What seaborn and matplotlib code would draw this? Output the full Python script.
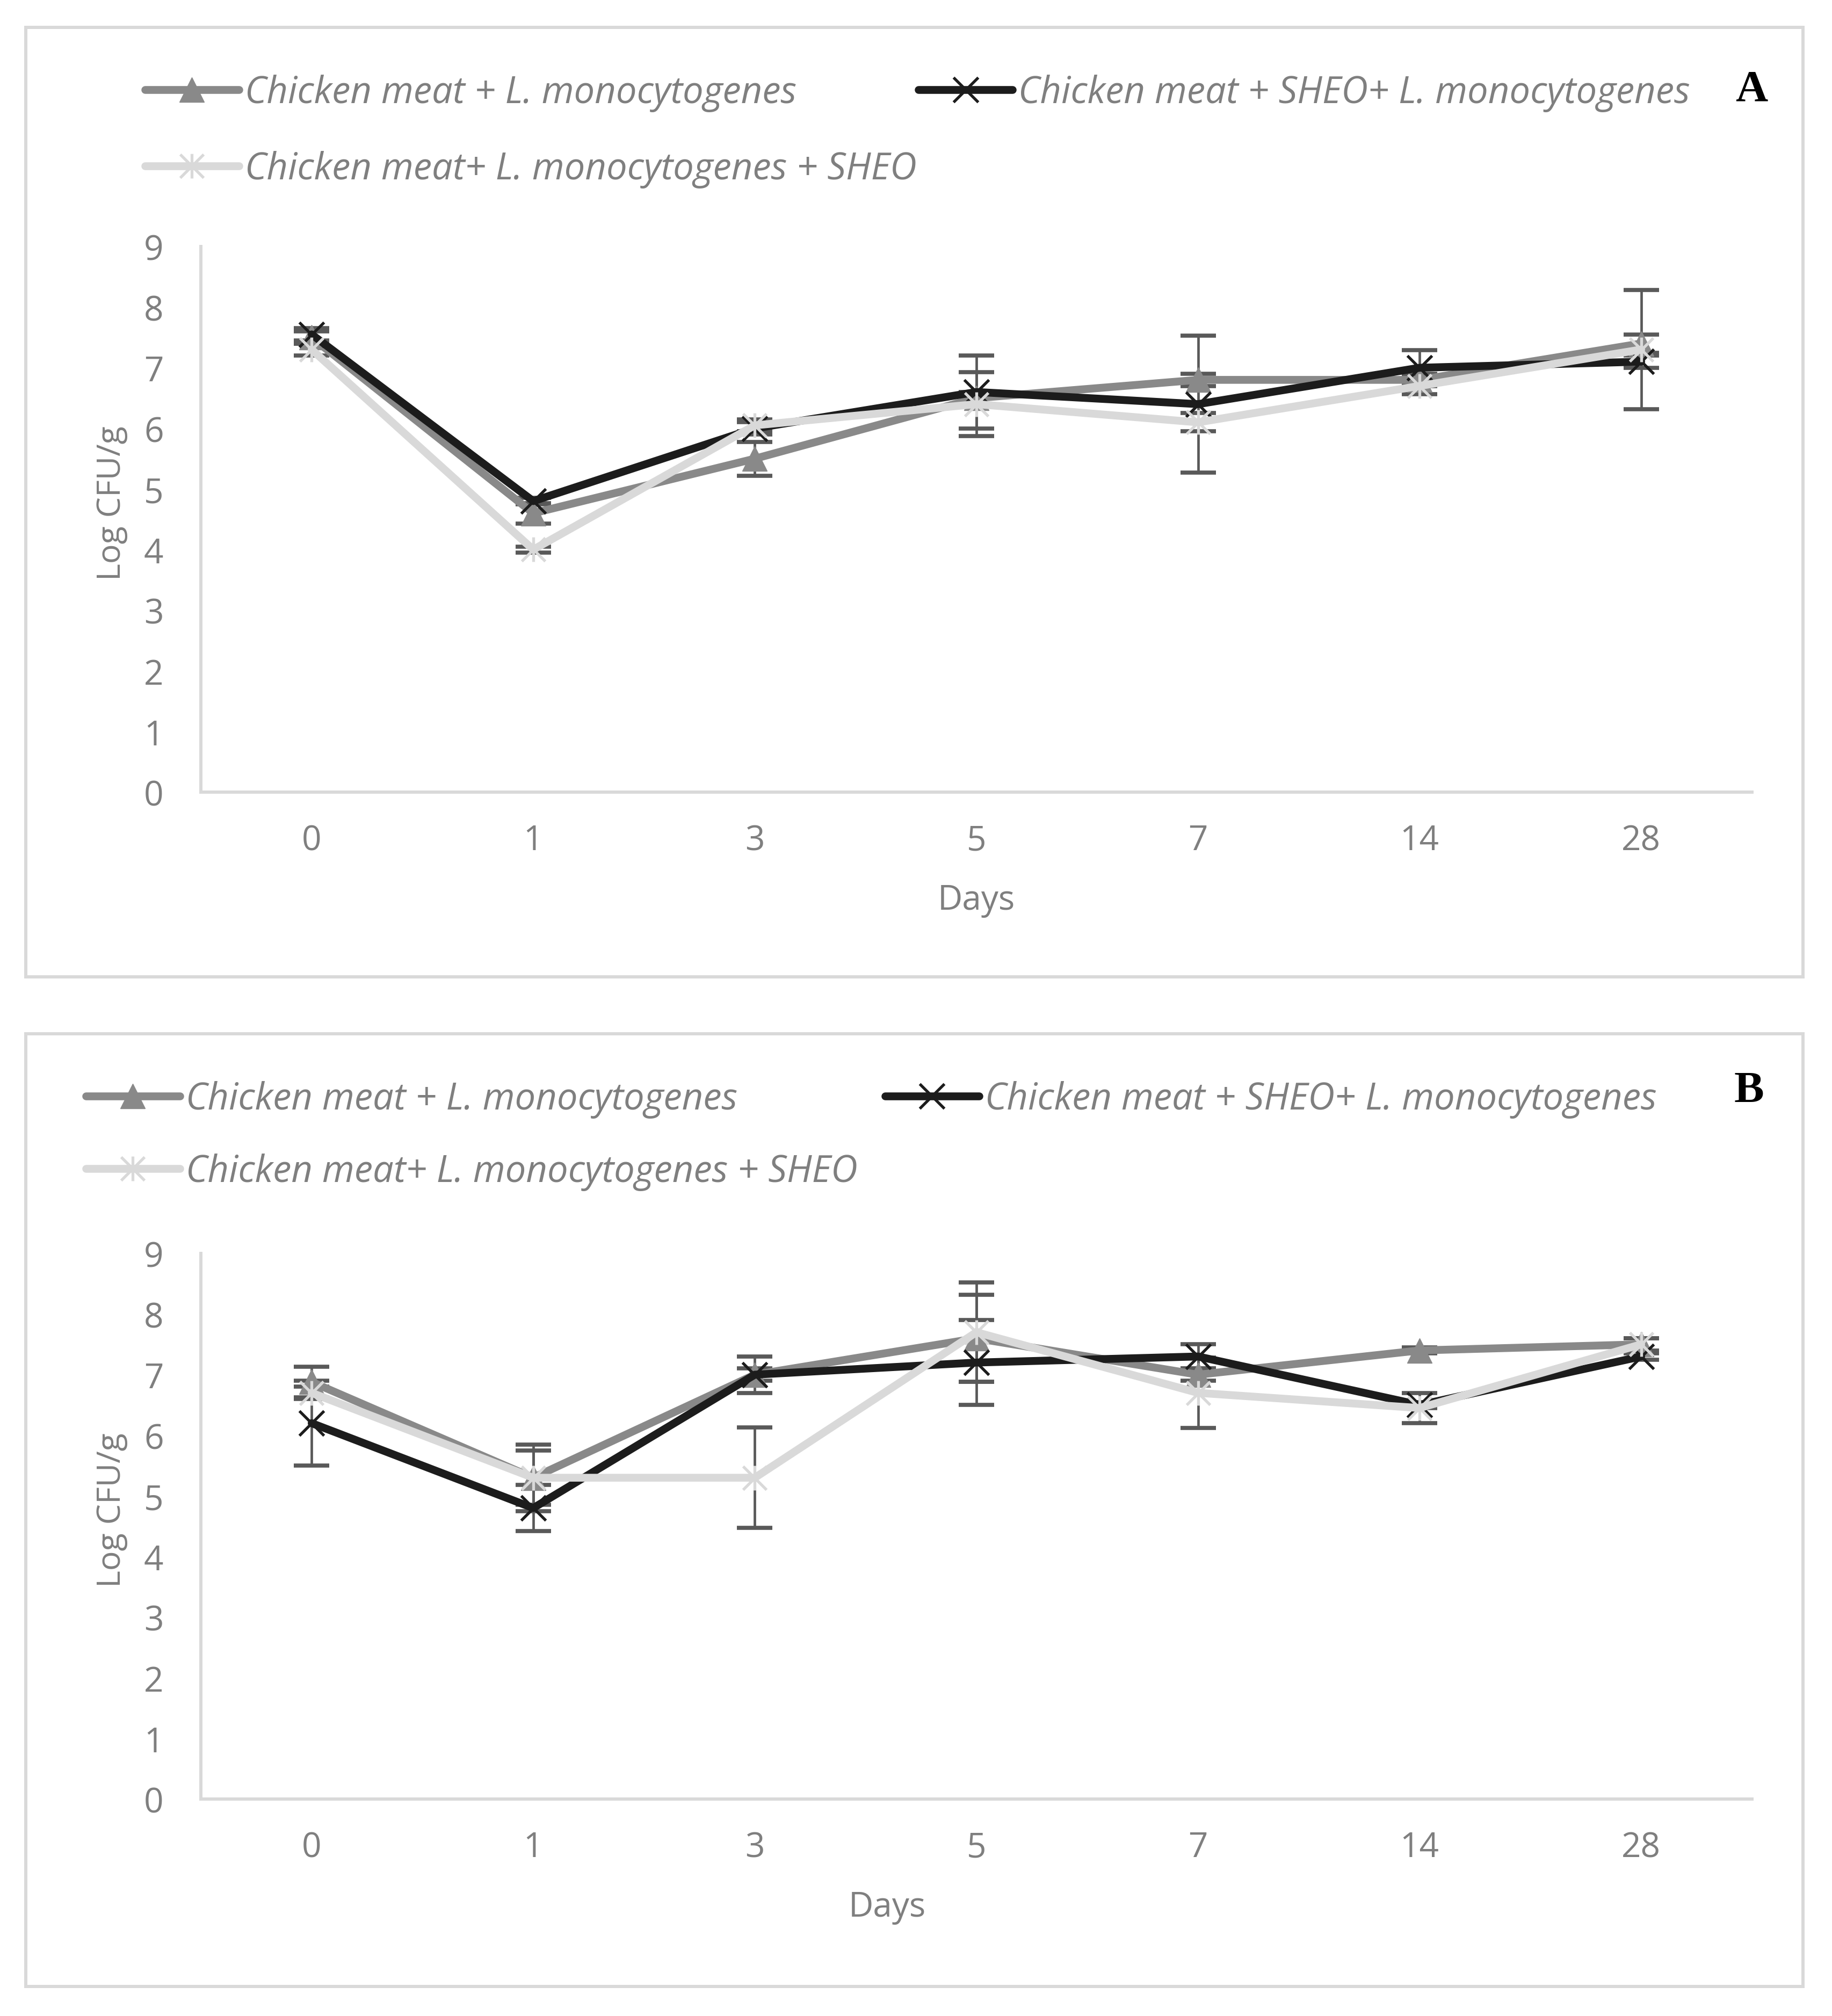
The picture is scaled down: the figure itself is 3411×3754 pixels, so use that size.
import matplotlib.pyplot as plt
import matplotlib.patches as mpatches
from matplotlib.path import Path
import seaborn as sns


DAYS = ["0", "1", "3", "5", "7", "14", "28"]
SERIES_LABELS = [
    "Chicken meat + L. monocytogenes",
    "Chicken meat + SHEO+ L. monocytogenes",
    "Chicken meat+ L. monocytogenes + SHEO",
]

# panel A
A_LM = [7.5, 4.6, 5.5, 6.5, 6.8, 6.8, 7.4]
A_SHEO_LM = [7.55, 4.8, 6.0, 6.6, 6.4, 7.0, 7.1]
A_LM_SHEO = [7.3, 4.0, 6.05, 6.4, 6.1, 6.7, 7.3]
A_LM_ERR = [0.1, 0.17, 0.28, 0.1, 0.1, 0.1, 0.15]
A_SHEO_LM_ERR = [0.1, 0.05, 0.1, 0.6, 1.13, 0.29, 0.1]
A_LM_SHEO_ERR = [0.1, 0.05, 0.1, 0.53, 0.15, 0.14, 0.98]

# panel B
B_LM = [6.88, 5.3, 7.0, 7.6, 7.0, 7.4, 7.5]
B_SHEO_LM = [6.2, 4.8, 7.0, 7.2, 7.3, 6.5, 7.3]
B_LM_SHEO = [6.7, 5.3, 5.3, 7.7, 6.7, 6.45, 7.5]
B_LM_ERR = [0.25, 0.55, 0.3, 0.72, 0.1, 0.05, 0.1]
B_SHEO_LM_ERR = [0.7, 0.38, 0.1, 0.7, 0.2, 0.05, 0.05]
B_LM_SHEO_ERR = [0.1, 0.45, 0.83, 0.82, 0.58, 0.25, 0.1]

TEXT_GREY = "#7f7f7f"
AXIS_GREY = "#d9d9d9"
ERR_GREY = "#595959"

ASTERISK = Path(
    [(-1, -1), (1, 1), (1, -1), (-1, 1), (0, -1.05), (0, 1.05)],
    [Path.MOVETO, Path.LINETO, Path.MOVETO, Path.LINETO, Path.MOVETO, Path.LINETO],
)

STYLES = [
    dict(color="#898989", marker="^", markersize=33, markeredgecolor="#898989", markeredgewidth=1),
    dict(color="#1c1c1c", marker="x", markersize=33, markeredgecolor="#1c1c1c", markeredgewidth=3.8),
    dict(color="#d9d9d9", marker=ASTERISK, markersize=33, markeredgecolor="#d9d9d9", markeredgewidth=3.8),
]

sns.set_theme(style="white")
plt.rcParams["font.family"] = ["Open Sans", "DejaVu Sans"]
plt.rcParams["lines.solid_capstyle"] = "round"
plt.rcParams["lines.solid_joinstyle"] = "round"

W, H = 3412, 3755
fig = plt.figure(figsize=(W / 100, H / 100), dpi=100)


def draw_panel(ax, values, errors, tag, legend_anchor, labelspacing, columnspacing, tag_xy, days_x):
    for i, (vals, errs) in enumerate(zip(values, errors)):
        ax.errorbar(DAYS, vals, yerr=errs, fmt="none", ecolor=ERR_GREY,
                    elinewidth=3.4, capsize=24, capthick=5.5, zorder=2)
        sns.lineplot(x=DAYS, y=vals, ax=ax, linewidth=10.5, label=SERIES_LABELS[i],
                     zorder=3 + i, **STYLES[i])

    ax.set_xlim(-0.5, 6.5)
    ax.set_ylim(0, 9)
    ax.set_yticks(range(10))
    for side in ["top", "right"]:
        ax.spines[side].set_visible(False)
    for side in ["left", "bottom"]:
        ax.spines[side].set_color(AXIS_GREY)
        ax.spines[side].set_linewidth(4.3)
    ax.tick_params(axis="both", length=0, labelsize=46, labelcolor=TEXT_GREY)
    ax.tick_params(axis="y", pad=50)
    ax.tick_params(axis="x", pad=42)
    ax.set_xlabel("Days", fontsize=46, color=TEXT_GREY)
    ax.set_ylabel("Log CFU/g", fontsize=44, color=TEXT_GREY)
    ax.xaxis.set_label_coords(days_x, -0.166)
    ax.yaxis.set_label_coords(-0.047, 0.53)

    handles, labels = ax.get_legend_handles_labels()
    order = [0, 2, 1]
    ax.legend(
        [handles[k] for k in order], [labels[k] for k in order],
        ncol=2, loc="upper left", bbox_to_anchor=legend_anchor,
        bbox_transform=fig.transFigure, frameon=False,
        prop={"family": "Open Sans", "style": "italic", "size": 49.5},
        labelcolor=TEXT_GREY, handlelength=126 / 49.5, handletextpad=8 / 49.5,
        columnspacing=columnspacing, labelspacing=labelspacing,
        borderpad=0, borderaxespad=0, numpoints=1,
    )

    fig.text(tag_xy[0] / W, 1 - tag_xy[1] / H, tag, ha="center", va="center",
             fontsize=60, fontweight="bold", family="Liberation Serif", color="black")


def frame(x0, y0, x1, y1):
    rect = mpatches.Rectangle((x0 / W, 1 - y1 / H), (x1 - x0) / W, (y1 - y0) / H,
                              transform=fig.transFigure, fill=False,
                              edgecolor=AXIS_GREY, linewidth=4.3)
    fig.patches.append(rect)


frame(48, 52, 3357, 1820)
frame(48, 1926, 3357, 3700)

ax_a = fig.add_axes([374 / W, 1 - 1476 / H, (3262 - 374) / W, (1476 - 460) / H])
draw_panel(ax_a, [A_LM, A_SHEO_LM, A_LM_SHEO], [A_LM_ERR, A_SHEO_LM_ERR, A_LM_SHEO_ERR],
           "A", (270 / W, 1 - 139 / H), 1.05, 0.05, (3261, 168), 0.5)

ax_b = fig.add_axes([374 / W, 1 - 3351 / H, (3262 - 374) / W, (3351 - 2335) / H])
draw_panel(ax_b, [B_LM, B_SHEO_LM, B_LM_SHEO], [B_LM_ERR, B_SHEO_LM_ERR, B_LM_SHEO_ERR],
           "B", (160 / W, 1 - 2013 / H), 0.95, 0.74, (3256, 2032), 0.4425)

fig.savefig("out.png", dpi=100, facecolor="white")
